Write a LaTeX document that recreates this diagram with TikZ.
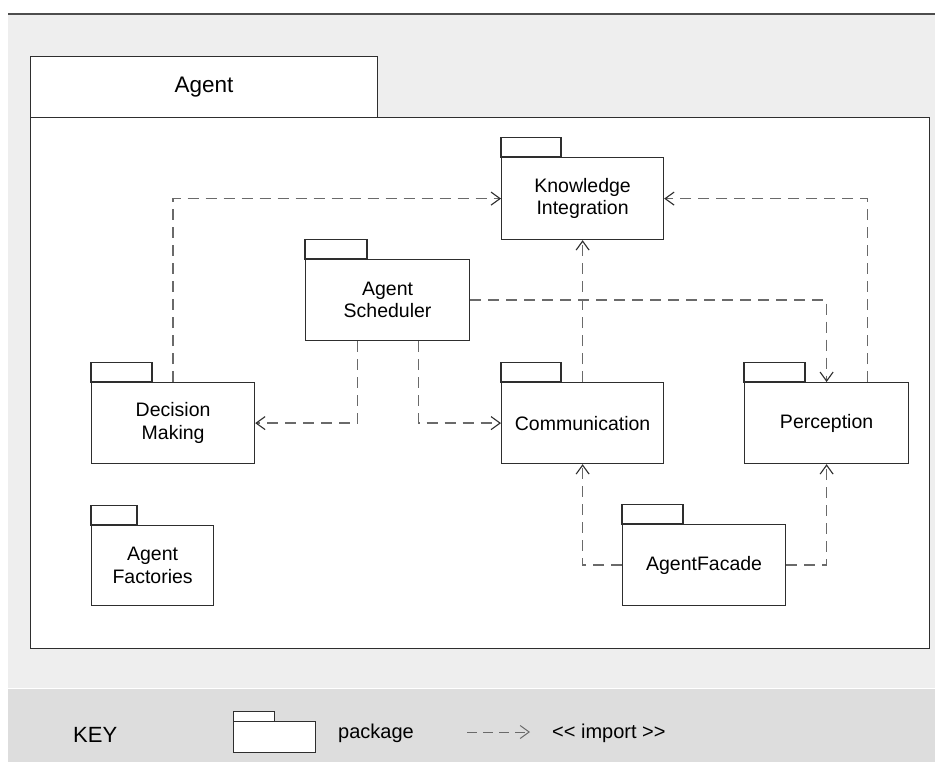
\documentclass[tikz,border=0pt]{standalone}
\usepackage{fontspec}
\setmainfont{Liberation Sans}
\usetikzlibrary{arrows.meta,calc}

\definecolor{panel}{HTML}{EEEEEE}
\definecolor{keyband}{HTML}{DDDDDD}
\definecolor{dashgray}{HTML}{6A6A6A}
\definecolor{edge}{HTML}{2E2E2E}

\tikzset{
  pkgbody/.style={draw=edge, fill=white, line width=1.2pt, anchor=north west,
    align=center, inner sep=0pt, font=\fontsize{19.5}{22.5}\selectfont},
  pkgtab/.style={draw=edge, fill=white, line width=1.2pt},
  importarrow/.style={draw=dashgray, line width=1.25pt, dash pattern=on 11pt off 7pt,
    -{Straight Barb[length=9pt,width=13pt,color=edge,line width=1.1pt]}},
  keytext/.style={inner sep=0pt, anchor=west, font=\fontsize{20}{24}\selectfont},
}

% package: name, x, y, width, height, tab width, label
\newcommand\umlpackage[7]{%
  \node[pkgbody, minimum width=#4pt, minimum height=#5pt] (#1) at (#2,#3) {#7};
  \draw[pkgtab] (#1.north west) rectangle ++(#6,-19.5);
}

\begin{document}
\begin{tikzpicture}[x=1pt,y=-1pt]
  \useasboundingbox (0,0) rectangle (935,762);
  \fill[white] (0,0) rectangle (935,762);

  % background panel and key band
  \fill[panel] (8,14) rectangle (935,688);
  \fill[keyband] (8,689) rectangle (935,762);
  \draw[edge!85, line width=1.3pt] (8,14) -- (935,14);

  % Agent container package
  \node[draw=edge, fill=white, line width=1.2pt, minimum width=347pt, minimum height=61pt,
        anchor=north west, inner sep=0pt, font=\fontsize{22.5}{26}\selectfont] (agenttab) at (30,56) {Agent};
  \node[draw=edge, fill=white, line width=1.2pt, minimum width=899pt, minimum height=531pt,
        anchor=north west, inner sep=0pt] (agent) at (30,117) {};

  % inner packages
  \umlpackage{ki}{501}{157}{162}{82}{60}{Knowledge\\Integration}
  \umlpackage{sch}{305}{259}{164}{81}{62}{Agent\\Scheduler}
  \umlpackage{dm}{91}{382}{163}{81}{61}{Decision\\Making}
  \umlpackage{com}{501}{382}{162}{81}{60}{Communication}
  \umlpackage{per}{744}{382}{164}{81}{61}{Perception}
  \umlpackage{fac}{622}{524}{163}{81}{61}{AgentFacade}
  \umlpackage{fab}{91}{525}{122}{80}{46}{Agent\\Factories}

  % import dependencies
  \draw[importarrow] (dm.north) |- (ki.west);
  \draw[importarrow] ([xshift=41pt]per.north) |- (ki.east);
  \draw[importarrow] (com.north) -- (ki.south);
  \draw[importarrow] (sch.east) -| (per.north);
  \draw[importarrow] ([xshift=-30pt]sch.south) |- (dm.east);
  \draw[importarrow] ([xshift=31pt]sch.south) |- (com.west);
  \draw[importarrow] (fac.west) -| (com.south);
  \draw[importarrow] (fac.east) -| (per.south);

  % key
  \node[keytext, font=\fontsize{22}{26}\selectfont] (keylabel) at (73,735) {KEY};
  \node[draw=edge, fill=white, line width=1pt, minimum width=82pt, minimum height=31pt,
        anchor=north west, inner sep=0pt] (keypkg) at (233,721) {};
  \draw[draw=edge, fill=white, line width=1pt] (keypkg.north west) rectangle ++(41,-10);
  \node[keytext] (keypkgtext) at (338,733) {package};
  \coordinate (keyfrom) at (467,732);
  \coordinate (keyto) at (530,732);
  \draw[draw=dashgray, line width=1pt, dash pattern=on 10pt off 6pt,
        -{Straight Barb[length=9pt,width=13pt,color=dashgray,line width=1pt]}] (keyfrom) -- (keyto);
  \node[keytext] (keyimport) at (552,733) {<\kern0pt< import >\kern0pt>};
\end{tikzpicture}
\end{document}
